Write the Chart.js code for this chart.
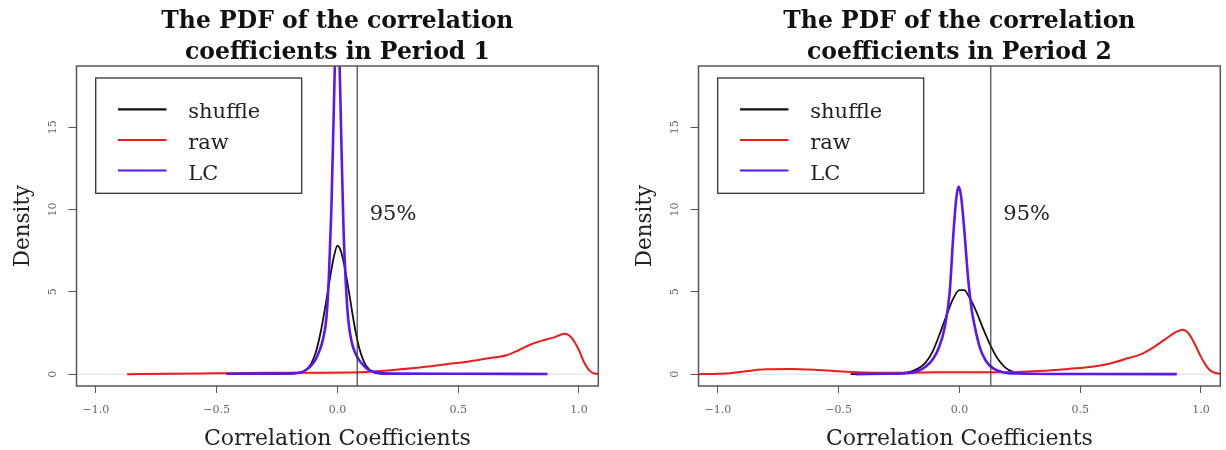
<!DOCTYPE html>
<html>
<head>
<meta charset="utf-8">
<script src="https://cdn.jsdelivr.net/npm/chart.js@4.4.0/dist/chart.umd.min.js"></script>
<style>
  html, body { margin: 0; padding: 0; background: #fff; overflow: hidden; }
  .panel { position: absolute; top: 0; width: 604px; height: 450px; }
</style>
</head>
<body>
<canvas id="period1" class="panel" width="604" height="450" style="left:0px"></canvas>
<canvas id="period2" class="panel" width="604" height="450" style="left:622px"></canvas>
<script>
// tick values and labels (shared by both panels)
var xTickValues = [-1, -0.5, 0, 0.5, 1];
var xTickLabels = ['\u22121.0', '\u22120.5', '0.0', '0.5', '1.0'];
var yTickValues = [0, 5, 10, 15];
var seriesNames = ['shuffle', 'raw', 'LC'];

// 95% cut of the shuffled coefficients, per period
var cutoffs = [0.082, 0.130];

// density estimates, [coefficient, density]
var p1Shuffle = [[-0.40,0.00],[-0.25,0.01],[-0.18,0.04],[-0.15,0.10],[-0.13,0.25],[-0.11,0.60],[-0.09,1.30],
  [-0.07,2.50],[-0.05,4.10],[-0.03,5.90],[-0.015,7.10],[0.00,7.80],[0.015,7.45],[0.03,6.50],[0.05,4.80],
  [0.07,3.00],[0.09,1.60],[0.11,0.75],[0.13,0.30],[0.15,0.10],[0.18,0.03],[0.25,0.01],[0.40,0.00]];
var p1Raw = [[-0.87,0.00],[-0.70,0.02],[-0.50,0.05],[-0.30,0.08],[-0.10,0.09],[0.05,0.10],[0.15,0.16],
  [0.25,0.28],[0.35,0.42],[0.45,0.60],[0.55,0.78],[0.62,0.95],[0.70,1.15],[0.75,1.45],[0.80,1.80],
  [0.85,2.05],[0.90,2.25],[0.94,2.45],[0.97,2.20],[1.00,1.45],[1.02,0.75],[1.04,0.28],[1.06,0.06],[1.08,0.01]];
var p1LC = [[-0.46,0.02],[-0.30,0.03],[-0.20,0.05],[-0.15,0.12],[-0.13,0.25],[-0.11,0.50],[-0.09,0.90],
  [-0.075,1.40],[-0.06,2.10],[-0.045,3.50],[-0.035,6.00],[-0.025,10.0],[-0.015,16.0],[-0.007,20.5],
  [0.00,21.5],[0.007,20.0],[0.015,15.0],[0.025,9.00],[0.035,5.50],[0.045,3.30],[0.06,1.90],[0.075,1.25],
  [0.09,0.85],[0.107,0.55],[0.125,0.30],[0.15,0.14],[0.18,0.06],[0.25,0.03],[0.50,0.02],[0.87,0.01]];

var p2Shuffle = [[-0.45,0.00],[-0.30,0.02],[-0.25,0.05],[-0.20,0.15],[-0.17,0.35],[-0.14,0.70],[-0.11,1.40],
  [-0.08,2.50],[-0.05,3.70],[-0.025,4.60],[0.00,5.10],[0.02,5.10],[0.04,4.70],[0.07,3.80],[0.10,2.70],
  [0.13,1.70],[0.16,0.90],[0.19,0.40],[0.22,0.15],[0.26,0.04],[0.30,0.01],[0.45,0.00]];
var p2Raw = [[-1.08,0.00],[-1.00,0.02],[-0.95,0.06],[-0.90,0.15],[-0.85,0.24],[-0.80,0.30],[-0.70,0.32],
  [-0.60,0.27],[-0.50,0.17],[-0.40,0.10],[-0.30,0.08],[-0.15,0.10],[0.00,0.12],[0.20,0.12],[0.35,0.20],
  [0.45,0.32],[0.55,0.45],[0.60,0.57],[0.65,0.75],[0.70,0.98],[0.75,1.20],[0.80,1.60],[0.85,2.10],
  [0.90,2.58],[0.925,2.70],[0.95,2.45],[0.97,1.95],[1.00,1.05],[1.02,0.55],[1.035,0.27],[1.05,0.12],
  [1.07,0.04],[1.08,0.02]];
var p2LC = [[-0.43,0.00],[-0.30,0.02],[-0.22,0.05],[-0.18,0.15],[-0.14,0.45],[-0.11,0.90],[-0.085,1.60],
  [-0.06,2.90],[-0.04,5.00],[-0.025,8.50],[-0.012,10.8],[-0.003,11.4],[0.007,10.8],[0.02,8.80],
  [0.035,6.00],[0.05,4.00],[0.065,2.80],[0.085,1.60],[0.11,0.80],[0.14,0.35],[0.18,0.12],[0.25,0.04],
  [0.50,0.01],[0.90,0.00]];

var SERIF = '"DejaVu Serif", serif';
var colors = { shuffle: '#111111', raw: '#ec1c1c', LC: '#5a16f4' };
var widths = { shuffle: 1.8, raw: 2, LC: 2.6 };
// drawing order: LC on top, shuffle at the bottom
var layer = { shuffle: 2, raw: 1, LC: 0 };

/*
 * Frame, zero line, cut line, legend and all the text around a panel
 */
var panelDecor = {
    id: 'panelDecor',
    beforeDatasetsDraw: function(chart) {
        var ctx = chart.ctx, area = chart.chartArea;
        var y0 = chart.scales.y.getPixelForValue(0);
        ctx.save();
        ctx.strokeStyle = '#dcdcdc';
        ctx.lineWidth = 1;
        ctx.beginPath();
        ctx.moveTo(area.left, y0);
        ctx.lineTo(area.right, y0);
        ctx.stroke();
        ctx.restore();
    },
    afterDatasetsDraw: function(chart, args, opts) {
        var ctx = chart.ctx, area = chart.chartArea;
        ctx.save();

        // 95% line and its label
        var xc = chart.scales.x.getPixelForValue(opts.cut);
        ctx.strokeStyle = '#333';
        ctx.lineWidth = 1.1;
        ctx.beginPath();
        ctx.moveTo(xc, area.top);
        ctx.lineTo(xc, area.bottom);
        ctx.stroke();
        ctx.fillStyle = '#222';
        ctx.font = '21px ' + SERIF;
        ctx.textAlign = 'left';
        ctx.textBaseline = 'alphabetic';
        ctx.fillText('95%', xc + 12.5, 220);

        // plot frame
        ctx.strokeStyle = '#555';
        ctx.lineWidth = 1.5;
        ctx.strokeRect(area.left, area.top, area.right - area.left, area.bottom - area.top);

        // legend
        ctx.fillStyle = '#fff';
        ctx.fillRect(95.7, 78, 206, 115.3);
        ctx.strokeStyle = '#333';
        ctx.lineWidth = 1.3;
        ctx.strokeRect(95.7, 78, 206, 115.3);
        var rows = [109.3, 140, 170.5];
        ctx.font = '21px ' + SERIF;
        seriesNames.forEach(function(name, i) {
            ctx.strokeStyle = colors[name];
            ctx.lineWidth = 2.2;
            ctx.beginPath();
            ctx.moveTo(118, rows[i]);
            ctx.lineTo(166.5, rows[i]);
            ctx.stroke();
            ctx.fillStyle = '#222';
            ctx.fillText(name, 188.3, rows[i] + 9);
        });
        ctx.restore();
    },
    afterDraw: function(chart, args, opts) {
        var ctx = chart.ctx, area = chart.chartArea;
        var cx = (area.left + area.right) / 2;
        ctx.save();

        // title
        ctx.fillStyle = '#111';
        ctx.textAlign = 'center';
        ctx.textBaseline = 'alphabetic';
        ctx.font = 'bold 23.5px ' + SERIF;
        ctx.fillText(opts.title[0], cx, 28.3);
        ctx.fillText(opts.title[1], cx, 59.3);

        // axis titles
        ctx.fillStyle = '#222';
        ctx.font = '22px ' + SERIF;
        ctx.fillText('Correlation Coefficients', cx, 445);
        ctx.save();
        ctx.translate(29, (area.top + area.bottom) / 2);
        ctx.rotate(-Math.PI / 2);
        ctx.font = '21.5px ' + SERIF;
        ctx.fillText('Density', 0, 0);
        ctx.restore();

        // y tick labels, written along the axis
        var ys = chart.scales.y;
        ctx.fillStyle = '#666';
        ctx.font = '11px ' + SERIF;
        ctx.textBaseline = 'middle';
        ys.ticks.forEach(function(t) {
            ctx.save();
            ctx.translate(53.5, ys.getPixelForValue(t.value));
            ctx.rotate(-Math.PI / 2);
            ctx.fillText(String(t.value), 0, 0);
            ctx.restore();
        });
        ctx.restore();
    }
};

var makeDataset = function(name, pairs) {
    return {
        label: name,
        data: pairs.map(function(p) { return { x: p[0], y: p[1] }; }),
        borderColor: colors[name],
        borderWidth: widths[name],
        pointRadius: 0,
        fill: false,
        cubicInterpolationMode: 'monotone',
        order: layer[name],
        clip: 0
    };
};

var createPanel = function(id, title, cut, shuffle, raw, lc) {
    var ctx = document.getElementById(id).getContext('2d');
    return new Chart(ctx, {
        type: 'line',
        data: {
            datasets: [
                makeDataset('shuffle', shuffle),
                makeDataset('raw', raw),
                makeDataset('LC', lc)
            ]
        },
        options: {
            responsive: false,
            animation: false,
            devicePixelRatio: 1,
            events: [],
            layout: { padding: { top: 66, right: 5.7, left: 0, bottom: 0 } },
            plugins: {
                legend: { display: false },
                tooltip: { enabled: false },
                panelDecor: { title: title, cut: cut }
            },
            scales: {
                x: {
                    type: 'linear',
                    min: -1.08,
                    max: 1.08,
                    afterBuildTicks: function(scale) {
                        scale.ticks = xTickValues.map(function(v) { return { value: v }; });
                    },
                    afterFit: function(scale) { scale.height = 64; },
                    border: { display: false },
                    grid: { drawOnChartArea: false, drawTicks: true, tickLength: 7, color: '#555', lineWidth: 1 },
                    ticks: {
                        padding: 11,
                        color: '#666',
                        font: { family: 'DejaVu Serif', size: 11 },
                        maxRotation: 0,
                        autoSkip: false,
                        callback: function(v) { return xTickLabels[xTickValues.indexOf(v)]; }
                    }
                },
                y: {
                    type: 'linear',
                    min: -0.72,
                    max: 18.72,
                    afterBuildTicks: function(scale) {
                        scale.ticks = yTickValues.map(function(v) { return { value: v }; });
                    },
                    afterFit: function(scale) { scale.width = 76.5; },
                    border: { display: false },
                    grid: { drawOnChartArea: false, drawTicks: true, tickLength: 8, color: '#555', lineWidth: 1 },
                    ticks: { display: false }
                }
            }
        },
        plugins: [panelDecor]
    });
};

createPanel('period1', ['The PDF of the correlation', 'coefficients in Period 1'], cutoffs[0], p1Shuffle, p1Raw, p1LC);
createPanel('period2', ['The PDF of the correlation', 'coefficients in Period 2'], cutoffs[1], p2Shuffle, p2Raw, p2LC);
</script>
</body>
</html>
